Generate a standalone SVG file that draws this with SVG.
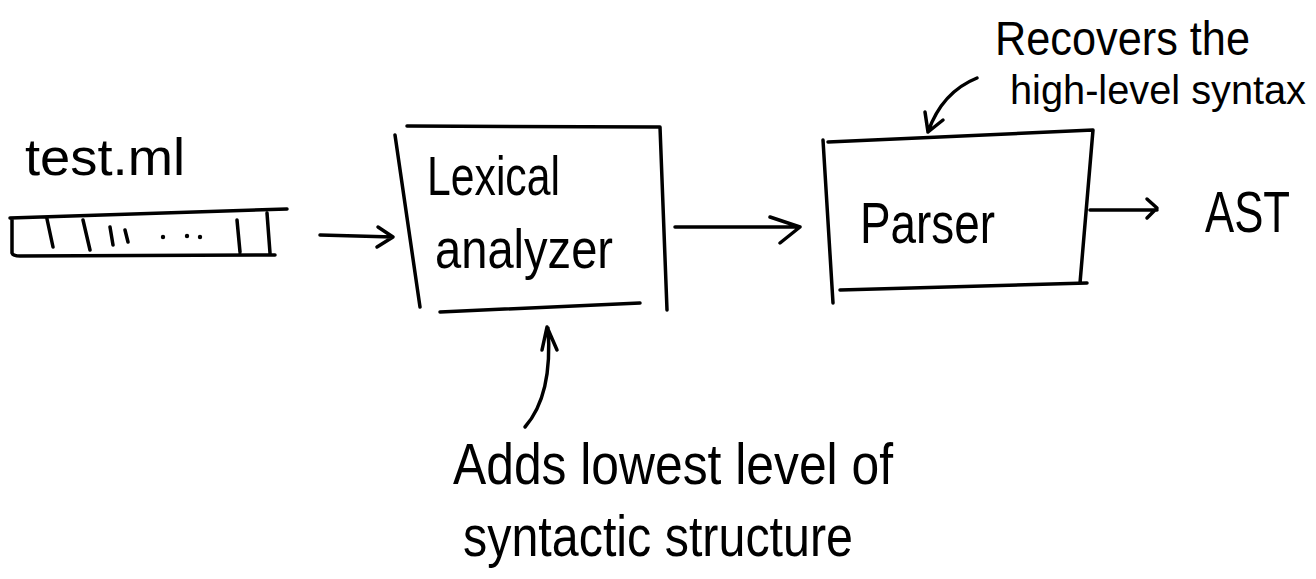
<svg xmlns="http://www.w3.org/2000/svg" width="1316" height="579" viewBox="0 0 1316 579">
<style>
.s{fill:none;stroke:#000;stroke-width:3.5;stroke-linecap:round;stroke-linejoin:round}
.t{font-family:"Liberation Sans","DejaVu Sans",sans-serif;fill:#000}
</style>
<rect width="1316" height="579" fill="#fff"/>
<g id="input">
<text class="t" x="25" y="175" font-size="52" textLength="160" lengthAdjust="spacingAndGlyphs">test.ml</text>
<path class="s" d="M10 218 L287 209 M12 218 L12 253 Q13 256 20 256 L275 255 M267 213 L270 253 M47 219 L53 247 M83 220 L90 250 M110 227 L113 245 M125 230 L128 242 M237 220 L240 252"/>
<circle cx="163" cy="237" r="2.2"/><circle cx="187" cy="236" r="2.2"/><circle cx="200" cy="237" r="2.2"/>
</g>
<g id="lexer">
<path class="s" d="M407 126 L660 127 L667 310 M395 135 L420 307 M440 312 L640 303"/>
<text class="t" x="427" y="195" font-size="55" textLength="133" lengthAdjust="spacingAndGlyphs">Lexical</text>
<text class="t" x="435" y="268" font-size="55" textLength="178" lengthAdjust="spacingAndGlyphs">analyzer</text>
</g>
<g id="parser">
<path class="s" d="M828 142 L1093 130 L1080 283 M823 140 L833 303 M840 290 L1087 283"/>
<text class="t" x="860" y="243" font-size="58" textLength="135" lengthAdjust="spacingAndGlyphs">Parser</text>
</g>
<g id="ast">
<text class="t" x="1205" y="232" font-size="58" textLength="85" lengthAdjust="spacingAndGlyphs">AST</text>
</g>
<g id="note-parser">
<text class="t" x="995" y="55" font-size="48" textLength="255" lengthAdjust="spacingAndGlyphs">Recovers the</text>
<text class="t" x="1010" y="104" font-size="40" textLength="296" lengthAdjust="spacingAndGlyphs">high-level syntax</text>
</g>
<g id="note-lexer">
<text class="t" x="453" y="484" font-size="58" textLength="440" lengthAdjust="spacingAndGlyphs">Adds lowest level of</text>
<text class="t" x="463" y="556" font-size="58" textLength="390" lengthAdjust="spacingAndGlyphs">syntactic structure</text>
</g>
<g id="connectors">
<path class="s" d="M320 235 L393 237 M378 227 L393 237 L377 247"/>
<path class="s" d="M675 227 L800 227 M770 217 L800 227 L780 243"/>
<path class="s" d="M1090 210 L1157 210 M1147 199 L1157 208 L1147 218"/>
<path class="s" d="M977 78 Q942 92 928 132 M925 112 L928 132 L943 120"/>
<path class="s" d="M525 427 Q553 395 548 328 M542 350 L547 327 L557 350"/>
</g>
</svg>
